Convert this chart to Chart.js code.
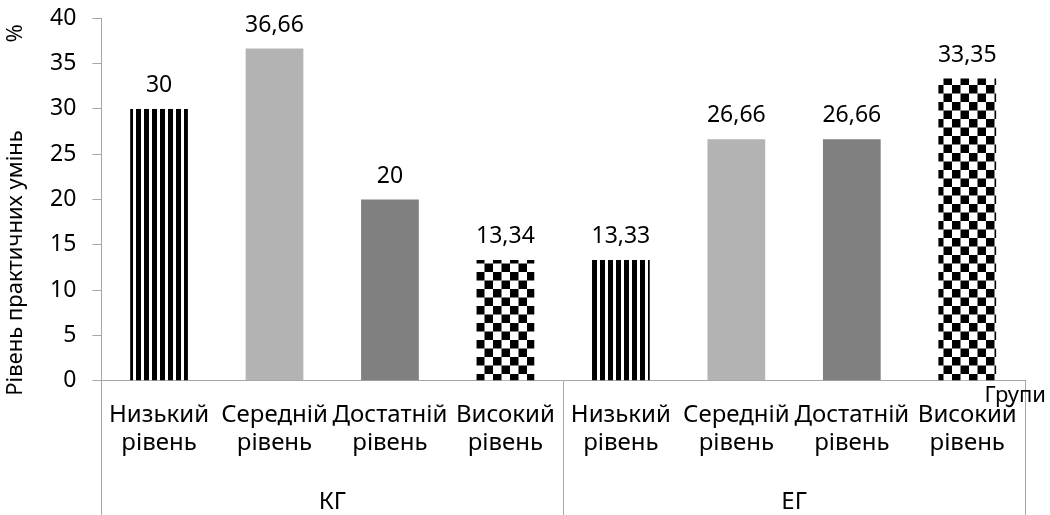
<!DOCTYPE html>
<html>
<head>
<meta charset="utf-8">
<script src="https://cdn.jsdelivr.net/npm/chart.js@4/dist/chart.umd.min.js"></script>
<style>
    body { margin: 0; background: #fff; }
</style>
</head>
<body>
<canvas id="barChart" width="1050" height="515"></canvas>
<script>
// Рівень практичних умінь

const levels = [
    ['Низький', 'рівень'],
    ['Середній', 'рівень'],
    ['Достатній', 'рівень'],
    ['Високий', 'рівень'],
];

const groups = ['КГ', 'ЕГ'];

const values = [30, 36.66, 20, 13.34, 13.33, 26.66, 26.66, 33.35];
const valueLabels = ['30', '36,66', '20', '13,34', '13,33', '26,66', '26,66', '33,35'];

const yMin = 0;
const yMax = 40;
const yStep = 5;

const yTitle = 'Рівень практичних умінь';
const yUnit = '%';
const xTitle = 'Групи';

const FONT = '"Noto Sans", sans-serif';
const AXIS = '#a6a6a6';

function stripePattern() {
    const c = document.createElement('canvas');
    c.width = 8;
    c.height = 8;
    const g = c.getContext('2d');
    g.fillStyle = '#fff';
    g.fillRect(0, 0, 8, 8);
    g.fillStyle = '#000';
    g.fillRect(0, 0, 5, 8);
    return g.createPattern(c, 'repeat');
}

function checkerPattern() {
    const c = document.createElement('canvas');
    c.width = 17;
    c.height = 17;
    const g = c.getContext('2d');
    g.fillStyle = '#fff';
    g.fillRect(0, 0, 17, 17);
    g.fillStyle = '#000';
    g.fillRect(0, 0, 8.5, 8.5);
    g.fillRect(8.5, 8.5, 8.5, 8.5);
    return g.createPattern(c, 'repeat');
}

const levelFills = [stripePattern(), '#b3b3b3', '#808080', checkerPattern()];

const barLabels = groups.flatMap(() => levels);
const barFills = groups.flatMap(() => levelFills);

const extras = {
    id: 'extras',
    afterDraw(chart) {
        const { ctx, chartArea, scales } = chart;
        const x = scales.x;
        const meta = chart.getDatasetMeta(0);
        ctx.save();

        // value labels
        ctx.font = '23px ' + FONT;
        ctx.fillStyle = '#000';
        ctx.textAlign = 'center';
        ctx.textBaseline = 'alphabetic';
        meta.data.forEach((bar, i) => {
            ctx.fillText(valueLabels[i], bar.x, bar.y - 17);
        });

        // group separators below the axis
        const half = (x.getPixelForValue(1) - x.getPixelForValue(0)) / 2;
        const edges = [0, levels.length - 1, values.length - 1].map((v, k) =>
            k === 0 ? x.getPixelForValue(v) - half : x.getPixelForValue(v) + half);
        ctx.strokeStyle = AXIS;
        ctx.lineWidth = 1;
        edges.forEach(px => {
            const xx = Math.round(px) + 0.5;
            ctx.beginPath();
            ctx.moveTo(xx, chartArea.bottom);
            ctx.lineTo(xx, chart.height);
            ctx.stroke();
        });

        // axis titles
        ctx.fillStyle = '#000';
        ctx.font = '22px ' + FONT;
        ctx.textBaseline = 'middle';
        ctx.save();
        ctx.translate(16, chartArea.bottom + 15);
        ctx.rotate(-Math.PI / 2);
        ctx.textAlign = 'left';
        ctx.fillText(yTitle, 0, 0);
        ctx.restore();

        ctx.save();
        ctx.translate(16, chartArea.top + 15);
        ctx.rotate(-Math.PI / 2);
        ctx.textAlign = 'center';
        ctx.fillText(yUnit, 0, 0);
        ctx.restore();

        ctx.textAlign = 'right';
        ctx.fillText(xTitle, chart.width - 4, chartArea.bottom + 15);

        ctx.restore();
    }
};

const barChart = new Chart(document.getElementById('barChart'), {
    type: 'bar',
    data: {
        labels: barLabels,
        datasets: [{
            data: values,
            backgroundColor: barFills,
            borderWidth: 0,
            categoryPercentage: 1,
            barPercentage: 0.5,
        }]
    },
    options: {
        responsive: false,
        animation: false,
        layout: {
            padding: { left: 34, right: 25, top: 6, bottom: -4 }
        },
        plugins: {
            legend: { display: false },
            tooltip: { enabled: false },
        },
        scales: {
            x: {
                type: 'category',
                position: 'bottom',
                weight: 0,
                grid: { display: true, drawOnChartArea: false, drawTicks: false },
                border: { display: true, color: AXIS },
                ticks: {
                    color: '#000',
                    font: { family: FONT, size: 24, lineHeight: 1.17 },
                    padding: 20,
                    maxRotation: 0,
                    autoSkip: false,
                },
            },
            x2: {
                type: 'category',
                position: 'bottom',
                weight: 1,
                labels: groups,
                offset: true,
                grid: { display: false },
                border: { display: false },
                ticks: {
                    color: '#000',
                    font: { family: FONT, size: 24, lineHeight: 1.17 },
                    padding: 3,
                    maxRotation: 0,
                },
            },
            y: {
                min: yMin,
                max: yMax,
                ticks: {
                    stepSize: yStep,
                    color: '#000',
                    font: { family: FONT, size: 23, lineHeight: 0.2 },
                    padding: 16,
                },
                grid: { drawOnChartArea: false, drawTicks: true, tickLength: 9, color: AXIS },
                border: { display: true, color: AXIS },
            },
        },
    },
    plugins: [extras],
});
</script>
</body>
</html>
